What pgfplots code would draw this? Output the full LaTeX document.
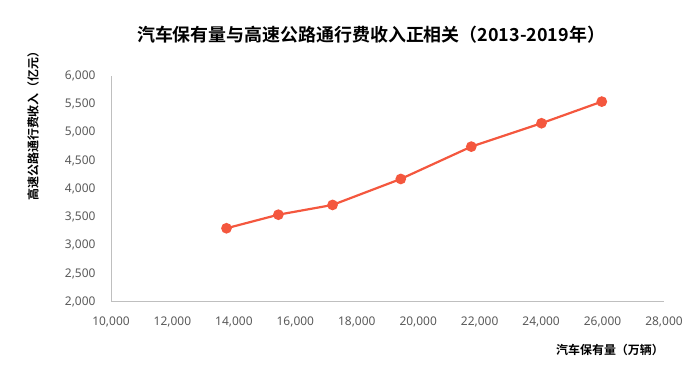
\documentclass[border=0pt]{standalone}
\usepackage{pgfplots}
\pgfplotsset{compat=1.18}
\usepackage{fontspec}
\setmainfont{Noto Sans CJK SC}[BoldFont={* Bold}]
\newfontfamily\tickfont{Noto Sans}
\definecolor{linec}{HTML}{F4573E}
\definecolor{axc}{HTML}{BFBFBF}
\definecolor{txt}{HTML}{595959}
\begin{document}
\begin{tikzpicture}
\path (0bp,0bp) rectangle (700bp,374bp);
\begin{axis}[
  at={(111bp,72bp)}, anchor=south west,
  scale only axis, width=553bp, height=226.5bp,
  xmin=10000, xmax=28000, ymin=2000, ymax=6000,
  xtick={10000,12000,...,28000}, ytick={2000,2500,...,6000},
  axis x line*=bottom, axis y line*=left,
  axis line style={-, draw=axc, line width=1bp},
  major tick length=0pt,
  scaled ticks=false,
  /pgf/number format/.cd, 1000 sep={,}, assume math mode=true,
  /pgfplots/.cd,
  tick label style={font=\tickfont\fontsize{12}{14}\selectfont, text=txt},
  yticklabel style={xshift=-12bp},
  xticklabel style={yshift=-11bp},
  clip=false,
]
\addplot[color=linec, line width=2.2bp, mark=*, mark size=4.2bp, mark options={fill=linec, draw=none}]
  coordinates {
  (13759,3302) (15448,3542) (17212,3714) (19432,4173) (21728,4744) (24012,5157) (25975,5539)
  };
\end{axis}
\node[font=\bfseries\fontsize{18}{20}\selectfont] at (371bp,339bp) {汽车保有量与高速公路通行费收入正相关（2013-2019年）};
\node[font=\bfseries\fontsize{12}{14}\selectfont, rotate=90] at (33bp,251bp) {高速公路通行费收入（亿元）};
\node[font=\bfseries\fontsize{12}{14}\selectfont, anchor=east, inner sep=0pt] at (664bp,24bp) {汽车保有量（万辆）};
\end{tikzpicture}
\end{document}
